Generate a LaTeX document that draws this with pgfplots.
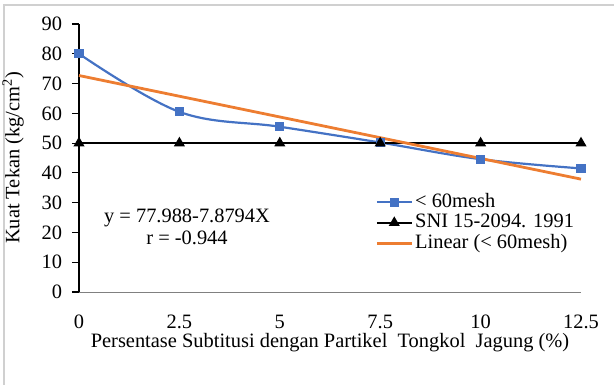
\documentclass[border=0pt]{standalone}
\usepackage{fontspec}
\setmainfont{Liberation Serif}
\usepackage{pgfplots}
\pgfplotsset{compat=1.18}
\definecolor{exblue}{HTML}{4472C4}
\definecolor{exorange}{HTML}{ED7D31}
\definecolor{frame}{HTML}{D0D0D0}
\begin{document}
\fontsize{20.5}{23}\selectfont
\begin{tikzpicture}
\path[use as bounding box] (-79bp,-93bp) rectangle (535bp,292bp);
\draw[frame, line width=1.5bp] (-75bp,-93bp) -- (-75bp,287bp) -- (535bp,287bp);
\begin{axis}[
  at={(0,0)}, anchor=south west,
  scale only axis, width=502bp, height=268bp,
  xmin=0, xmax=12.5, ymin=0, ymax=90,
  xtick={0,2.5,5,7.5,10,12.5},
  xticklabels={0,2.5,5,7.5,10,12.5},
  ytick={0,10,...,90},
  axis x line*=bottom, axis y line*=left,
  x axis line style={-, draw=gray, line width=1bp},
  y axis line style={-, draw=black, line width=1.5bp},
  x tick style={draw=none},
  y tick style={draw=black, line width=1.2bp},
  major tick length=7bp,
  tick align=outside,
  xticklabel style={yshift=-9bp},
  yticklabel style={xshift=-3bp},
  /pgf/number format/assume math mode=true,
  ticklabel style={font=\fontsize{20.5}{23}\selectfont},
  xlabel={Persentase Subtitusi dengan Partikel\ \ Tongkol\ \ Jagung (\%)},
  ylabel={Kuat Tekan (kg/cm\textsuperscript{2})},
  label style={font=\fontsize{20.5}{23}\selectfont},
  xlabel style={yshift=9bp},
  ylabel style={yshift=4bp},
  clip=false,
  legend style={at={(rel axis cs:0.59,0.375)}, anchor=north west, draw=none, fill=none,
    font=\fontsize{20.5}{20}\selectfont, row sep=-0.5bp, inner sep=0pt},
  legend cell align=left,
  legend image code/.code={\draw[#1] (0bp,0bp) -- (35bp,0bp); \path[#1] plot coordinates {(17.5bp,0bp)};},
]
\addplot[exblue, line width=2.2bp, smooth, tension=0.6, mark=square*, mark size=3.5bp, mark options={solid, fill=exblue}]
  coordinates {(0,80) (2.5,60.5) (5,55.5) (7.5,50.2) (10,44.6) (12.5,41.5)};
\addlegendentry{< 60mesh}
\addplot[black, line width=2.2bp, mark=triangle*, mark size=4.2bp, mark options={solid, fill=black}]
  coordinates {(0,50) (2.5,50) (5,50) (7.5,50) (10,50) (12.5,50)};
\addlegendentry{SNI 15-2094. 1991}
\addplot[exorange, line width=2.8bp, no marks]
  coordinates {(0,72.7) (12.5,37.9)};
\addlegendentry{Linear (< 60mesh)}
\node[align=center, font=\fontsize{20.5}{22}\selectfont] at (axis cs:2.69,21.8) {y = 77.988-7.8794X\\r = -0.944};
\end{axis}
\end{tikzpicture}
\end{document}
